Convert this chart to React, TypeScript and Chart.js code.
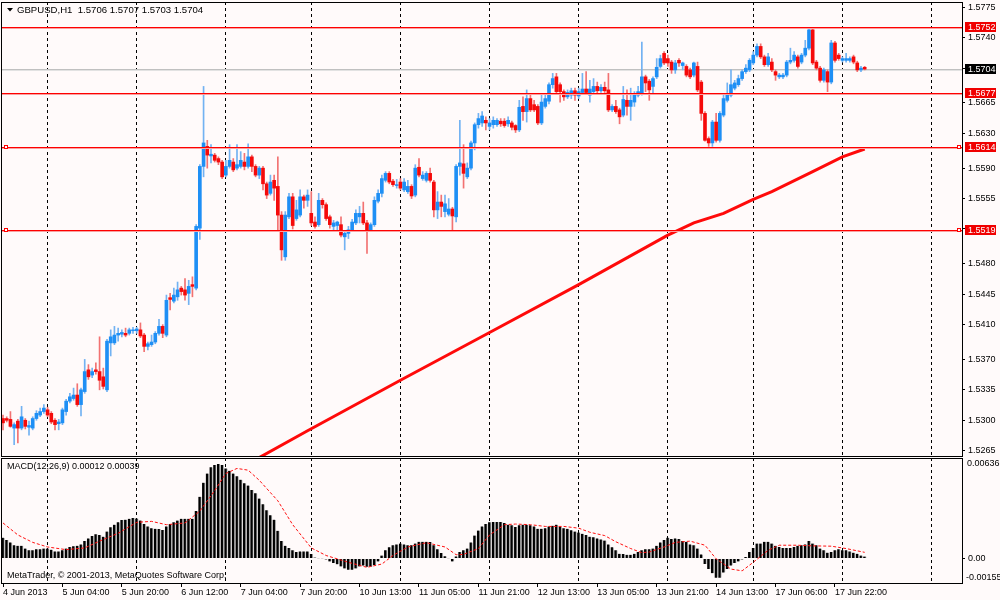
import React, { useEffect, useRef } from "react";
import { Chart, registerables } from "chart.js";

Chart.register(...registerables);

const FONT = "'Liberation Sans', Arial, sans-serif";
const BG = "#fffafa";

// GBPUSD H1, bar 0 = 4 Jun 2013 12:00
const opens = [
  1.5302, 1.5302, 1.5301, 1.5291, 1.5299, 1.5291, 1.5300, 1.5292, 1.5291, 1.5302,
  1.5306, 1.5310, 1.5312, 1.5308, 1.5300, 1.5296, 1.5297, 1.5310, 1.5322, 1.5325,
  1.5329, 1.5318, 1.5333, 1.5358, 1.5352, 1.5358, 1.5356, 1.5350, 1.5335, 1.5389,
  1.5389, 1.5398, 1.5399, 1.5400, 1.5400, 1.5403, 1.5403, 1.5404, 1.5398, 1.5385,
  1.5387, 1.5390, 1.5400, 1.5408, 1.5398, 1.5441, 1.5437, 1.5442, 1.5452, 1.5450,
  1.5446, 1.5456, 1.5452, 1.5521, 1.5592, 1.5615, 1.5604, 1.5605, 1.5601, 1.5597,
  1.5582, 1.5592, 1.5597, 1.5590, 1.5592, 1.5597, 1.5592, 1.5603, 1.5592, 1.5582,
  1.5590, 1.5572, 1.5561, 1.5576, 1.5569, 1.5536, 1.5488, 1.5534, 1.5557, 1.5532,
  1.5536, 1.5557, 1.5553, 1.5538, 1.5528, 1.5525, 1.5553, 1.5548, 1.5534, 1.5523,
  1.5524, 1.5525, 1.5511, 1.5515, 1.5519, 1.5527, 1.5534, 1.5538, 1.5527, 1.5519,
  1.5525, 1.5552, 1.5561, 1.5576, 1.5584, 1.5575, 1.5570, 1.5574, 1.5565, 1.5563,
  1.5569, 1.5559, 1.5591, 1.5578, 1.5576, 1.5584, 1.5574, 1.5542, 1.5551, 1.5540,
  1.5537, 1.5543, 1.5534, 1.5592, 1.5595, 1.5580, 1.5590, 1.5619, 1.5640, 1.5642,
  1.5645, 1.5638, 1.5640, 1.5640, 1.5644, 1.5644, 1.5641, 1.5642, 1.5639, 1.5634,
  1.5661, 1.5655, 1.5670, 1.5663, 1.5661, 1.5642, 1.5661, 1.5667, 1.5686, 1.5695,
  1.5686, 1.5678, 1.5672, 1.5674, 1.5679, 1.5673, 1.5677, 1.5681, 1.5674, 1.5678,
  1.5684, 1.5679, 1.5683, 1.5680, 1.5657, 1.5661, 1.5657, 1.5651, 1.5668, 1.5661,
  1.5666, 1.5674, 1.5676, 1.5695, 1.5690, 1.5684, 1.5695, 1.5707, 1.5722, 1.5716,
  1.5712, 1.5703, 1.5714, 1.5708, 1.5707, 1.5703, 1.5697, 1.5707, 1.5689, 1.5653,
  1.5624, 1.5619, 1.5643, 1.5622, 1.5651, 1.5668, 1.5674, 1.5682, 1.5686, 1.5693,
  1.5701, 1.5703, 1.5711, 1.5720, 1.5730, 1.5718, 1.5709, 1.5712, 1.5701, 1.5695,
  1.5695, 1.5697, 1.5712, 1.5714, 1.5718, 1.5712, 1.5720, 1.5728, 1.5749, 1.5712,
  1.5705, 1.5691, 1.5701, 1.5689, 1.5734, 1.5720, 1.5714, 1.5714, 1.5714, 1.5718,
  1.5711, 1.5703, 1.5706,
];

const highs = [
  1.5306, 1.5304, 1.5310, 1.5297, 1.5301, 1.5316, 1.5302, 1.5299, 1.5304, 1.5311,
  1.5314, 1.5318, 1.5315, 1.5310, 1.5302, 1.5301, 1.5314, 1.5324, 1.5331, 1.5337,
  1.5342, 1.5337, 1.5370, 1.5364, 1.5360, 1.5366, 1.5396, 1.5360, 1.5393, 1.5404,
  1.5408, 1.5406, 1.5404, 1.5406, 1.5406, 1.5407, 1.5407, 1.5412, 1.5400, 1.5390,
  1.5398, 1.5402, 1.5416, 1.5410, 1.5444, 1.5446, 1.5452, 1.5459, 1.5454, 1.5463,
  1.5461, 1.5465, 1.5525, 1.5594, 1.5684, 1.5622, 1.5617, 1.5607, 1.5603, 1.5599,
  1.5599, 1.5617, 1.5601, 1.5617, 1.5609, 1.5607, 1.5618, 1.5605, 1.5594, 1.5592,
  1.5592, 1.5574, 1.5582, 1.5582, 1.5603, 1.5540, 1.5540, 1.5561, 1.5561, 1.5553,
  1.5565, 1.5559, 1.5565, 1.5563, 1.5534, 1.5561, 1.5555, 1.5550, 1.5536, 1.5530,
  1.5529, 1.5534, 1.5517, 1.5523, 1.5531, 1.5542, 1.5546, 1.5551, 1.5530, 1.5527,
  1.5557, 1.5565, 1.5582, 1.5586, 1.5586, 1.5577, 1.5577, 1.5578, 1.5578, 1.5576,
  1.5571, 1.5594, 1.5601, 1.5586, 1.5586, 1.5590, 1.5576, 1.5563, 1.5559, 1.5559,
  1.5555, 1.5545, 1.5594, 1.5645, 1.5617, 1.5596, 1.5621, 1.5642, 1.5653, 1.5655,
  1.5649, 1.5647, 1.5649, 1.5647, 1.5647, 1.5647, 1.5649, 1.5644, 1.5640, 1.5668,
  1.5672, 1.5680, 1.5674, 1.5668, 1.5663, 1.5676, 1.5676, 1.5688, 1.5699, 1.5699,
  1.5688, 1.5680, 1.5680, 1.5682, 1.5682, 1.5682, 1.5699, 1.5701, 1.5691, 1.5693,
  1.5689, 1.5686, 1.5689, 1.5699, 1.5663, 1.5668, 1.5659, 1.5684, 1.5680, 1.5682,
  1.5678, 1.5684, 1.5735, 1.5697, 1.5692, 1.5695, 1.5716, 1.5720, 1.5724, 1.5720,
  1.5714, 1.5714, 1.5716, 1.5712, 1.5709, 1.5705, 1.5712, 1.5712, 1.5691, 1.5655,
  1.5626, 1.5645, 1.5653, 1.5655, 1.5674, 1.5688, 1.5703, 1.5691, 1.5697, 1.5703,
  1.5709, 1.5716, 1.5724, 1.5733, 1.5733, 1.5720, 1.5722, 1.5716, 1.5703, 1.5699,
  1.5699, 1.5714, 1.5728, 1.5724, 1.5720, 1.5722, 1.5737, 1.5752, 1.5751, 1.5714,
  1.5707, 1.5705, 1.5703, 1.5737, 1.5736, 1.5722, 1.5718, 1.5722, 1.5718, 1.5720,
  1.5713, 1.5707, 1.5707,
];

const lows = [
  1.5289, 1.5298, 1.5292, 1.5272, 1.5274, 1.5289, 1.5290, 1.5283, 1.5289, 1.5300,
  1.5304, 1.5308, 1.5304, 1.5296, 1.5289, 1.5289, 1.5295, 1.5306, 1.5320, 1.5323,
  1.5316, 1.5305, 1.5331, 1.5347, 1.5349, 1.5353, 1.5335, 1.5336, 1.5333, 1.5374,
  1.5387, 1.5391, 1.5396, 1.5396, 1.5398, 1.5400, 1.5400, 1.5395, 1.5379, 1.5381,
  1.5385, 1.5388, 1.5398, 1.5395, 1.5396, 1.5427, 1.5435, 1.5438, 1.5444, 1.5438,
  1.5433, 1.5442, 1.5450, 1.5508, 1.5580, 1.5590, 1.5596, 1.5597, 1.5594, 1.5578,
  1.5580, 1.5590, 1.5586, 1.5588, 1.5590, 1.5588, 1.5590, 1.5586, 1.5580, 1.5578,
  1.5565, 1.5555, 1.5559, 1.5553, 1.5517, 1.5484, 1.5484, 1.5532, 1.5520, 1.5530,
  1.5534, 1.5544, 1.5546, 1.5524, 1.5521, 1.5523, 1.5544, 1.5530, 1.5521, 1.5517,
  1.5519, 1.5511, 1.5496, 1.5509, 1.5517, 1.5525, 1.5527, 1.5525, 1.5492, 1.5517,
  1.5523, 1.5550, 1.5557, 1.5574, 1.5572, 1.5569, 1.5567, 1.5565, 1.5563, 1.5561,
  1.5555, 1.5557, 1.5580, 1.5576, 1.5574, 1.5574, 1.5534, 1.5532, 1.5534, 1.5534,
  1.5535, 1.5519, 1.5528, 1.5582, 1.5567, 1.5578, 1.5588, 1.5611, 1.5636, 1.5638,
  1.5634, 1.5634, 1.5636, 1.5638, 1.5638, 1.5637, 1.5638, 1.5634, 1.5631, 1.5632,
  1.5645, 1.5643, 1.5655, 1.5655, 1.5640, 1.5640, 1.5659, 1.5664, 1.5682, 1.5676,
  1.5666, 1.5668, 1.5670, 1.5670, 1.5668, 1.5670, 1.5675, 1.5675, 1.5666, 1.5676,
  1.5676, 1.5677, 1.5677, 1.5655, 1.5655, 1.5653, 1.5641, 1.5649, 1.5651, 1.5645,
  1.5661, 1.5672, 1.5674, 1.5678, 1.5668, 1.5676, 1.5693, 1.5705, 1.5709, 1.5707,
  1.5699, 1.5699, 1.5707, 1.5703, 1.5695, 1.5693, 1.5695, 1.5678, 1.5645, 1.5621,
  1.5615, 1.5615, 1.5620, 1.5620, 1.5649, 1.5666, 1.5672, 1.5680, 1.5684, 1.5691,
  1.5699, 1.5701, 1.5709, 1.5718, 1.5716, 1.5707, 1.5707, 1.5701, 1.5691, 1.5693,
  1.5693, 1.5695, 1.5710, 1.5712, 1.5705, 1.5710, 1.5718, 1.5726, 1.5709, 1.5703,
  1.5689, 1.5689, 1.5678, 1.5687, 1.5712, 1.5714, 1.5712, 1.5712, 1.5712, 1.5710,
  1.5701, 1.5701, 1.5703,
];

const closes = [
  1.5297, 1.5300, 1.5293, 1.5295, 1.5291, 1.5304, 1.5293, 1.5294, 1.5302, 1.5308,
  1.5310, 1.5314, 1.5306, 1.5298, 1.5295, 1.5298, 1.5312, 1.5322, 1.5327, 1.5329,
  1.5318, 1.5335, 1.5356, 1.5350, 1.5356, 1.5356, 1.5346, 1.5339, 1.5391, 1.5396,
  1.5398, 1.5400, 1.5401, 1.5398, 1.5404, 1.5404, 1.5405, 1.5397, 1.5385, 1.5388,
  1.5390, 1.5400, 1.5408, 1.5400, 1.5438, 1.5439, 1.5444, 1.5450, 1.5448, 1.5444,
  1.5454, 1.5454, 1.5523, 1.5592, 1.5619, 1.5605, 1.5606, 1.5599, 1.5597, 1.5580,
  1.5592, 1.5599, 1.5588, 1.5594, 1.5599, 1.5592, 1.5603, 1.5592, 1.5582, 1.5590,
  1.5572, 1.5559, 1.5574, 1.5567, 1.5536, 1.5496, 1.5536, 1.5557, 1.5524, 1.5542,
  1.5557, 1.5553, 1.5559, 1.5527, 1.5523, 1.5553, 1.5548, 1.5532, 1.5525, 1.5527,
  1.5528, 1.5513, 1.5515, 1.5519, 1.5528, 1.5538, 1.5538, 1.5527, 1.5519, 1.5525,
  1.5553, 1.5561, 1.5578, 1.5584, 1.5574, 1.5571, 1.5571, 1.5567, 1.5574, 1.5569,
  1.5558, 1.5590, 1.5582, 1.5582, 1.5584, 1.5576, 1.5542, 1.5551, 1.5546, 1.5549,
  1.5543, 1.5535, 1.5592, 1.5596, 1.5584, 1.5590, 1.5619, 1.5640, 1.5647, 1.5650,
  1.5642, 1.5642, 1.5645, 1.5645, 1.5641, 1.5639, 1.5645, 1.5637, 1.5634, 1.5660,
  1.5655, 1.5670, 1.5657, 1.5657, 1.5642, 1.5666, 1.5670, 1.5686, 1.5693, 1.5678,
  1.5678, 1.5672, 1.5677, 1.5679, 1.5674, 1.5678, 1.5681, 1.5677, 1.5681, 1.5684,
  1.5679, 1.5683, 1.5679, 1.5657, 1.5661, 1.5655, 1.5649, 1.5669, 1.5661, 1.5668,
  1.5676, 1.5678, 1.5695, 1.5688, 1.5680, 1.5693, 1.5706, 1.5716, 1.5711, 1.5711,
  1.5703, 1.5711, 1.5711, 1.5711, 1.5697, 1.5695, 1.5711, 1.5680, 1.5653, 1.5622,
  1.5619, 1.5643, 1.5622, 1.5653, 1.5670, 1.5676, 1.5686, 1.5688, 1.5693, 1.5701,
  1.5705, 1.5714, 1.5720, 1.5730, 1.5718, 1.5709, 1.5718, 1.5703, 1.5697, 1.5697,
  1.5697, 1.5712, 1.5714, 1.5720, 1.5707, 1.5720, 1.5728, 1.5749, 1.5711, 1.5705,
  1.5691, 1.5703, 1.5689, 1.5734, 1.5714, 1.5716, 1.5716, 1.5716, 1.5716, 1.5712,
  1.5703, 1.5705, 1.5704,
];

// slow moving average at these bars
const maBars = [66, 82, 107, 131, 155, 179, 186, 194, 202, 207, 218, 226, 232];
const maValues = [1.5250, 1.5288, 1.5346, 1.5401, 1.5456, 1.5513, 1.5527, 1.5538, 1.5554, 1.5563, 1.5586, 1.5603, 1.5612];

const macdHist = [
  0.00132, 0.00117, 0.00102, 0.00084, 0.00080, 0.00080, 0.00063, 0.00052, 0.00052, 0.00058,
  0.00058, 0.00063, 0.00063, 0.00056, 0.00045, 0.00045, 0.00052, 0.00063, 0.00073, 0.00078,
  0.00080, 0.00089, 0.00110, 0.00127, 0.00143, 0.00153, 0.00149, 0.00138, 0.00171, 0.00197,
  0.00214, 0.00229, 0.00244, 0.00246, 0.00251, 0.00257, 0.00253, 0.00240, 0.00218, 0.00203,
  0.00192, 0.00188, 0.00186, 0.00181, 0.00203, 0.00218, 0.00229, 0.00240, 0.00251, 0.00251,
  0.00251, 0.00251, 0.00300, 0.00391, 0.00480, 0.00538, 0.00577, 0.00592, 0.00598, 0.00592,
  0.00570, 0.00555, 0.00538, 0.00521, 0.00499, 0.00477, 0.00462, 0.00434, 0.00413, 0.00380,
  0.00343, 0.00305, 0.00274, 0.00246, 0.00175, 0.00110, 0.00080, 0.00067, 0.00052, 0.00041,
  0.00045, 0.00045, 0.00045, 0.00028, 0.00006, 0.00002, -0.00002, -0.00006, -0.00019, -0.00028,
  -0.00037, -0.00050, -0.00063, -0.00071, -0.00071, -0.00063, -0.00050, -0.00045, -0.00052, -0.00052,
  -0.00041, -0.00019, 0.00019, 0.00052, 0.00071, 0.00084, 0.00089, 0.00095, 0.00089, 0.00084,
  0.00084, 0.00095, 0.00106, 0.00106, 0.00106, 0.00104, 0.00084, 0.00058, 0.00035, 0.00015,
  0.00002, -0.00019, 0.00013, 0.00041, 0.00052, 0.00063, 0.00102, 0.00145, 0.00177, 0.00203,
  0.00218, 0.00229, 0.00231, 0.00231, 0.00231, 0.00225, 0.00214, 0.00210, 0.00199, 0.00210,
  0.00214, 0.00214, 0.00210, 0.00203, 0.00188, 0.00188, 0.00192, 0.00203, 0.00207, 0.00214,
  0.00201, 0.00192, 0.00188, 0.00179, 0.00171, 0.00164, 0.00156, 0.00149, 0.00138, 0.00134,
  0.00127, 0.00121, 0.00114, 0.00089, 0.00071, 0.00052, 0.00030, 0.00028, 0.00024, 0.00024,
  0.00030, 0.00041, 0.00052, 0.00058, 0.00058, 0.00063, 0.00080, 0.00102, 0.00117, 0.00132,
  0.00123, 0.00127, 0.00123, 0.00110, 0.00106, 0.00089, 0.00084, 0.00063, 0.00026, -0.00035,
  -0.00067, -0.00093, -0.00121, -0.00121, -0.00089, -0.00067, -0.00045, -0.00028, -0.00019, -0.00006,
  0.00009, 0.00041, 0.00067, 0.00095, 0.00095, 0.00106, 0.00106, 0.00095, 0.00080, 0.00073,
  0.00067, 0.00067, 0.00067, 0.00073, 0.00080, 0.00084, 0.00089, 0.00110, 0.00095, 0.00084,
  0.00063, 0.00052, 0.00037, 0.00041, 0.00052, 0.00058, 0.00052, 0.00052, 0.00045, 0.00037,
  0.00030, 0.00019, 0.00012,
];

// signal line read at these bars
const signalBars = [
  0, 4, 8, 12, 17, 22, 26, 31, 36, 40, 44, 49, 53, 57, 60, 63, 66, 69, 74, 78,
  83, 87, 93, 98, 102, 105, 109, 114, 119, 122, 124, 128, 131, 135, 138, 142, 146, 151, 155, 158,
  162, 165, 169, 172, 174, 178, 181, 185, 189, 192, 196, 199, 202, 206, 209, 214, 218, 223, 227, 232,
];
const signalValues = [
  0.00225, 0.00149, 0.00102, 0.00073, 0.00056, 0.00067, 0.00110, 0.00160, 0.00229, 0.00235,
  0.00214, 0.00225, 0.00300, 0.00430, 0.00538, 0.00570, 0.00559, 0.00495, 0.00365, 0.00214,
  0.00067, 0.00019, -0.00024, -0.00056, -0.00035, 0.00019, 0.00073, 0.00100, 0.00073, 0.00024,
  0.00026, 0.00063, 0.00149, 0.00214, 0.00218, 0.00214, 0.00203, 0.00203, 0.00192, 0.00166,
  0.00145, 0.00106, 0.00063, 0.00037, 0.00041, 0.00073, 0.00102, 0.00110, 0.00084, -0.00002,
  -0.00067, -0.00078, -0.00024, 0.00052, 0.00084, 0.00084, 0.00080, 0.00078, 0.00063, 0.00039,
];

const timeLabels = [
  "4 Jun 2013", "5 Jun 04:00", "5 Jun 20:00", "6 Jun 12:00", "7 Jun 04:00", "7 Jun 20:00",
  "10 Jun 13:00", "11 Jun 05:00", "11 Jun 21:00", "12 Jun 13:00", "13 Jun 05:00",
  "13 Jun 21:00", "14 Jun 13:00", "17 Jun 06:00", "17 Jun 22:00",
];
const timeLabelBars = [0, 16, 32, 48, 64, 80, 96, 112, 128, 144, 160, 176, 192, 208, 224];
const dayGridBars = [12, 36, 60, 83, 107, 131, 155, 179, 202, 226, 250];

const priceTicks = [1.5775, 1.5740, 1.5705, 1.5665, 1.5630, 1.5590, 1.5555, 1.5520, 1.5480, 1.5445, 1.5410, 1.5370, 1.5335, 1.5300, 1.5265];
const levelLines = [1.5752, 1.5677, 1.5614, 1.5519];
const selectedLevels = [1.5614, 1.5519];
const bidPrice = 1.5704;

const X_MIN = -0.54;
const X_MAX = 258.2;
const PRICE_MIN = 1.52589;
const PRICE_MAX = 1.57811;
const MACD_MIN = -0.00155;
const MACD_MAX = 0.00636;

const bgPlugin = {
  id: "bg",
  beforeDraw(chart: any) {
    const ctx = chart.ctx;
    ctx.save();
    ctx.fillStyle = BG;
    ctx.fillRect(0, 0, chart.width, chart.height);
    ctx.restore();
  },
};

const framePlugin = {
  id: "frame",
  afterDraw(chart: any) {
    const { ctx, chartArea } = chart;
    ctx.save();
    ctx.strokeStyle = "#000";
    ctx.lineWidth = 1;
    ctx.strokeRect(
      Math.round(chartArea.left) + 0.5,
      Math.round(chartArea.top) + 0.5,
      Math.round(chartArea.right - chartArea.left),
      Math.round(chartArea.bottom - chartArea.top)
    );
    ctx.restore();
  },
};

// axes keep the exact box size, no room for overflowing labels
const fitY = (s: any) => {
  s.width = 38;
  s.paddingTop = 0;
  s.paddingBottom = 0;
};
const fitX = (h: number) => (s: any) => {
  s.height = h;
  s.paddingLeft = 0;
  s.paddingRight = 0;
};

function dayGridAxis() {
  return {
    type: "linear" as const,
    position: "bottom" as const,
    min: X_MIN,
    max: X_MAX,
    offset: false,
    grid: { drawOnChartArea: true, drawTicks: false, color: "#000", lineWidth: 1, offset: false },
    border: { display: false, dash: [3, 3] },
    ticks: { display: false, autoSkip: false },
    afterBuildTicks: (s: any) => {
      s.ticks = dayGridBars.map(v => ({ value: v }));
    },
    afterFit: fitX(0),
  };
}

// 1px line with a soft second row, like the screenshot's horizontal objects
function hLine(ctx: CanvasRenderingContext2D, left: number, right: number, y: number, color: string, soft: string) {
  ctx.fillStyle = color;
  ctx.fillRect(left, y, right - left, 1);
  ctx.fillStyle = soft;
  ctx.fillRect(left, y + 1, right - left, 1);
}

function PriceChart() {
  const canvasRef = useRef<HTMLCanvasElement | null>(null);

  useEffect(() => {
    if (!canvasRef.current) return;
    const ctx = canvasRef.current.getContext("2d");
    if (!ctx) return;

    const up = closes.map((c, i) => c >= opens[i]);

    const levelsPlugin = {
      id: "levels",
      beforeDatasetsDraw(chart: any) {
        const { ctx, chartArea } = chart;
        const y = Math.round(chart.scales.y.getPixelForValue(bidPrice));
        ctx.save();
        hLine(ctx, chartArea.left, chartArea.right, y, "#c0c0c0", "#e2e2e2");
        ctx.restore();
      },
      afterDatasetsDraw(chart: any) {
        const { ctx, chartArea } = chart;
        const ys = chart.scales.y;
        ctx.save();
        levelLines.forEach(v => {
          const y = Math.round(ys.getPixelForValue(v));
          hLine(ctx, chartArea.left, chartArea.right, y, "#ff0000", "#f9a0a0");
        });
        ctx.strokeStyle = "#ff0000";
        ctx.lineWidth = 1;
        selectedLevels.forEach(v => {
          const y = Math.round(ys.getPixelForValue(v));
          [chartArea.left + 3, chartArea.right - 5].forEach(x => {
            ctx.fillStyle = BG;
            ctx.fillRect(x, y - 2, 4, 4);
            ctx.strokeRect(x + 0.5, y - 1.5, 3, 3);
          });
        });
        ctx.restore();
      },
      afterDraw(chart: any) {
        const { ctx, chartArea } = chart;
        const ys = chart.scales.y;
        ctx.save();
        ctx.textBaseline = "middle";
        ctx.textAlign = "left";
        ctx.font = `9px ${FONT}`;
        const box = (v: number, color: string) => {
          const y = Math.round(ys.getPixelForValue(v));
          ctx.fillStyle = color;
          ctx.fillRect(chartArea.right + 3, y - 5, 31, 10);
          ctx.fillStyle = "#fff";
          ctx.fillText(v.toFixed(4), chartArea.right + 6, y + 0.5);
        };
        levelLines.forEach(v => box(v, "#f00000"));
        box(bidPrice, "#000");

        // title
        ctx.fillStyle = "#000";
        ctx.beginPath();
        ctx.moveTo(7, 8);
        ctx.lineTo(13, 8);
        ctx.lineTo(10, 11.5);
        ctx.closePath();
        ctx.fill();
        ctx.font = `9.6px ${FONT}`;
        ctx.fillText("GBPUSD,H1  1.5706 1.5707 1.5703 1.5704", 17, 10);
        ctx.restore();
      },
    };

    const chart = new Chart(ctx, {
      type: "bar",
      data: {
        datasets: [
          {
            type: "line",
            data: maBars.map((b, k) => ({ x: b, y: maValues[k] })),
            borderColor: "#ff0a0a",
            borderWidth: 3,
            pointRadius: 0,
            clip: 0,
            order: -1,
          } as any,
          {
            type: "bar",
            data: closes.map((c, i) => ({ x: i, y: [opens[i], c] })),
            backgroundColor: up.map(u => (u ? "#1e8ff5" : "#f50a0a")),
            barThickness: 3,
            grouped: false,
            order: 0,
          } as any,
          {
            type: "bar",
            data: closes.map((_, i) => ({ x: i, y: [lows[i], highs[i]] })),
            backgroundColor: up.map(u => (u ? "#72b2f2" : "#f27272")),
            barThickness: 1,
            grouped: false,
            order: 1,
          } as any,
        ],
      },
      options: {
        animation: false,
        responsive: true,
        maintainAspectRatio: false,
        layout: { padding: { left: 1, top: 2, right: 0, bottom: 1 } },
        plugins: { legend: { display: false }, tooltip: { enabled: false } },
        scales: {
          x: dayGridAxis(),
          y: {
            type: "linear",
            position: "right",
            min: PRICE_MIN,
            max: PRICE_MAX,
            afterBuildTicks: (s: any) => {
              s.ticks = priceTicks.map(v => ({ value: v }));
            },
            afterFit: fitY,
            grid: { drawOnChartArea: false, drawTicks: true, tickLength: 3, color: "#000" },
            border: { display: true, color: "#000" },
            ticks: {
              color: "#000",
              padding: 3,
              autoSkip: false,
              font: { family: FONT, size: 9 },
              callback: (v: any) => Number(v).toFixed(4),
            },
          },
        },
      } as any,
      plugins: [bgPlugin, levelsPlugin, framePlugin],
    });

    return () => {
      chart.destroy();
    };
  }, []);

  return <canvas ref={canvasRef} />;
}

function MacdChart() {
  const canvasRef = useRef<HTMLCanvasElement | null>(null);

  useEffect(() => {
    if (!canvasRef.current) return;
    const ctx = canvasRef.current.getContext("2d");
    if (!ctx) return;

    const textPlugin = {
      id: "macdText",
      afterDraw(chart: any) {
        const { ctx, chartArea } = chart;
        ctx.save();
        ctx.font = `9px ${FONT}`;
        ctx.fillStyle = "#000";
        ctx.textBaseline = "middle";
        ctx.textAlign = "left";
        ctx.fillText("MACD(12,26,9) 0.00012 0.00039", 7, chartArea.top + 9);
        ctx.fillText("MetaTrader, \u00a9 2001-2013, MetaQuotes Software Corp.", 7, chartArea.bottom - 7);
        ctx.fillText(MACD_MAX.toFixed(5), chartArea.right + 5, chartArea.top + 6);
        ctx.fillText(MACD_MIN.toFixed(5), chartArea.right + 4, chartArea.bottom - 5);
        ctx.restore();
      },
    };

    const chart = new Chart(ctx, {
      type: "bar",
      data: {
        datasets: [
          {
            type: "line",
            data: signalBars.map((b, k) => ({ x: b, y: signalValues[k] })),
            borderColor: "#ff1010",
            borderWidth: 1,
            borderDash: [3, 2],
            pointRadius: 0,
            clip: 0,
            order: -1,
          } as any,
          {
            type: "bar",
            data: macdHist.map((v, i) => ({ x: i, y: v })),
            backgroundColor: "#000",
            borderColor: "#a8a8a8",
            borderWidth: { left: 0, right: 1, top: 0, bottom: 0 },
            borderSkipped: false,
            barThickness: 3,
            grouped: false,
            order: 0,
          } as any,
        ],
      },
      options: {
        animation: false,
        responsive: true,
        maintainAspectRatio: false,
        layout: { padding: { left: 1, top: 1, right: 0, bottom: 0 } },
        plugins: { legend: { display: false }, tooltip: { enabled: false } },
        scales: {
          x: {
            type: "linear",
            position: "bottom",
            min: X_MIN,
            max: X_MAX,
            offset: false,
            afterBuildTicks: (s: any) => {
              s.ticks = timeLabelBars.map(v => ({ value: v }));
            },
            afterFit: fitX(17),
            grid: { drawOnChartArea: false, drawTicks: true, tickLength: 4, color: "#000", offset: false },
            border: { display: true, color: "#000" },
            ticks: {
              color: "#000",
              align: "start",
              padding: 0,
              maxRotation: 0,
              autoSkip: false,
              font: { family: FONT, size: 9 },
              callback: (_v: any, i: number) => timeLabels[i],
            },
          },
          xg: dayGridAxis(),
          y: {
            type: "linear",
            position: "right",
            min: MACD_MIN,
            max: MACD_MAX,
            afterBuildTicks: (s: any) => {
              s.ticks = [{ value: 0 }];
            },
            afterFit: fitY,
            grid: { drawOnChartArea: false, drawTicks: true, tickLength: 3, color: "#000" },
            border: { display: true, color: "#000" },
            ticks: {
              color: "#000",
              padding: 3,
              font: { family: FONT, size: 9 },
              callback: () => "0.00",
            },
          },
        },
      } as any,
      plugins: [bgPlugin, textPlugin, framePlugin],
    });

    return () => {
      chart.destroy();
    };
  }, []);

  return <canvas ref={canvasRef} />;
}

export default function App() {
  return (
    <div style={{ position: "absolute", left: 0, top: 0, width: 1000, height: 600, background: BG }}>
      <div style={{ position: "absolute", left: 0, top: 0, width: 1000, height: 457 }}>
        <PriceChart />
      </div>
      <div style={{ position: "absolute", left: 0, top: 457, width: 1000, height: 143 }}>
        <MacdChart />
      </div>
    </div>
  );
}
